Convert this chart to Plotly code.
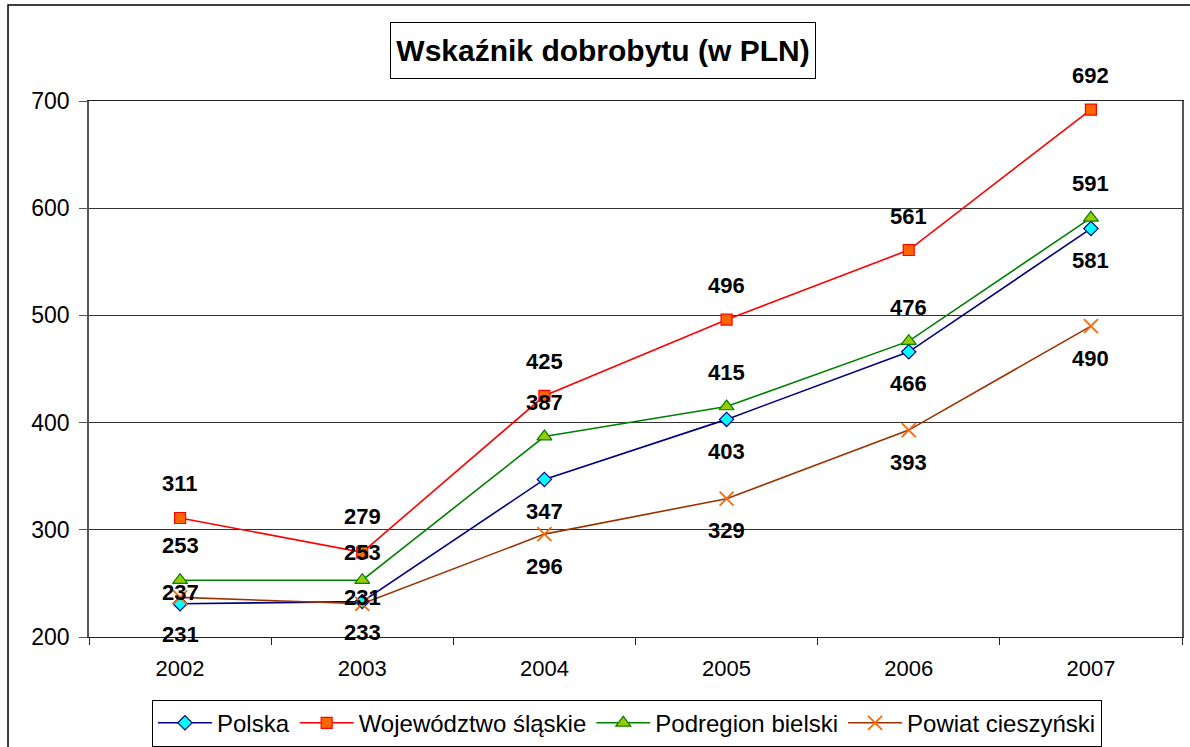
import plotly.graph_objects as go

years = ["2002", "2003", "2004", "2005", "2006", "2007"]
polska = [231, 233, 347, 403, 466, 581]
slaskie = [311, 279, 425, 496, 561, 692]
bielski = [253, 253, 387, 415, 476, 591]
cieszynski = [237, 231, 296, 329, 393, 490]

names = ["Polska", "Województwo śląskie", "Podregion bielski", "Powiat cieszyński"]
series = [polska, slaskie, bielski, cieszynski]

# styles
line_colors = ["#000080", "#FF0000", "#008000", "#993300"]
marker_fill = ["#00FFFF", "#FF6600", "#99CC00", "#FF6600"]
marker_line = ["#000080", "#FF0000", "#008000", "#FF6600"]
symbols = ["diamond", "square", "triangle-up", "x-thin"]
msizes = [11, 11, 13, 14]
# label vertical offsets (px, positive = up)
label_shift = [
    [-31, -31, -32, -32, -32, -32],
    [35, 36, 34, 34, 34, 34],
    [35, 28, 34, 34, 34, 34],
    [5, 6, -32, -32, -32, -32],
]

FONT = "Arial, Liberation Sans, sans-serif"

fig = go.Figure()
for i, (nm, vals) in enumerate(zip(names, series)):
    mline_w = 1.8 if symbols[i] == "x-thin" else 1.2
    fig.add_trace(go.Scatter(
        x=years, y=vals, name=nm, mode="lines+markers",
        line=dict(color=line_colors[i], width=1.6),
        marker=dict(symbol=symbols[i], size=msizes[i], color=marker_fill[i],
                    line=dict(color=marker_line[i], width=mline_w)),
        cliponaxis=False,
    ))

annotations = []
for i, vals in enumerate(series):
    for j, v in enumerate(vals):
        annotations.append(dict(
            x=j, y=v, xref="x", yref="y", text=f"<b>{v}</b>",
            showarrow=False, yshift=label_shift[i][j],
            font=dict(family=FONT, size=22, color="black"),
        ))

annotations.append(dict(
    xref="paper", yref="paper", x=0.470, y=1.095, xanchor="center", yanchor="middle",
    text="<b>Wskaźnik dobrobytu (w PLN)</b>", showarrow=False,
    font=dict(family=FONT, size=30, color="black"),
    bordercolor="black", borderwidth=1, borderpad=0, bgcolor="white",
    width=424, height=55,
))

fig.update_layout(
    width=1190, height=747,
    margin=dict(l=89, r=8, t=101, b=110, autoexpand=False),
    paper_bgcolor="white", plot_bgcolor="white",
    font=dict(family=FONT, size=22, color="black"),
    annotations=annotations,
    showlegend=True,
    legend=dict(
        orientation="h", x=0.0576, y=-0.117, xanchor="left", yanchor="top",
        bordercolor="black", borderwidth=1, bgcolor="white",
        font=dict(family=FONT, size=24, color="black"),
        itemwidth=54, tracegroupgap=0,
    ),
    shapes=[dict(type="rect", xref="paper", yref="paper",
                 x0=-0.0741, x1=1.3, y0=-0.5, y1=1.179,
                 line=dict(color="black", width=1.5), layer="below")],
)

fig.update_xaxes(
    type="category", range=[-0.5, 5.5],
    showline=True, linecolor="#222", linewidth=1, mirror=True,
    ticks="outside", ticklen=7, tickcolor="#222", tickson="boundaries",
    showgrid=False, tickfont=dict(family=FONT, size=22),
    ticklabelstandoff=12, automargin=False,
)
fig.update_yaxes(
    range=[200, 700], dtick=100, tick0=200,
    showline=True, linecolor="#555", linewidth=1.5, mirror=True,
    ticks="outside", ticklen=8, tickcolor="#555",
    showgrid=True, gridcolor="#333", gridwidth=1,
    tickfont=dict(family=FONT, size=23), zeroline=False,
    ticklabelstandoff=5, automargin=False,
)

fig.write_html(
    "out.html",
    config={"displayModeBar": False},
    post_script="document.body.style.margin='0';document.body.style.padding='0';",
)
